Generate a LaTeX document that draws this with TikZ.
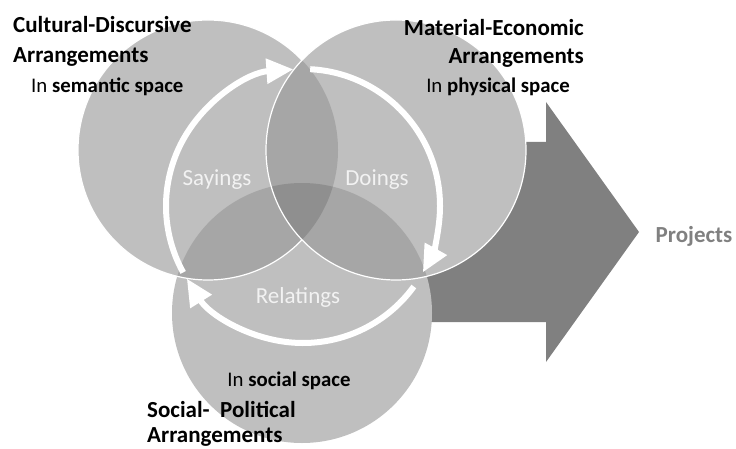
\documentclass[tikz,border=0pt]{standalone}
\usepackage{fontspec}
\setmainfont{Carlito}
\usetikzlibrary{arrows.meta}
\definecolor{single}{HTML}{BFBFBF}
\definecolor{pair}{HTML}{A6A6A6}
\definecolor{triple}{HTML}{8F8F8F}
\definecolor{bigarrow}{HTML}{808080}
\definecolor{innertext}{HTML}{F2F2F2}
\tikzset{
  header/.style={inner sep=0pt, font=\fontsize{23}{25}\selectfont\bfseries, text=black},
  spacetext/.style={inner sep=0pt, font=\fontsize{20.8}{23}\selectfont, text=black},
  inner label/.style={inner sep=0pt, font=\fontsize{23}{25}\selectfont, text=innertext},
  cycle arc/.style={white, line width=6pt, -{Triangle[length=27pt,width=24pt]}},
  rim/.style={white, line width=1.2pt}
}
\begin{document}
\begin{tikzpicture}[x=1pt,y=1pt]
\useasboundingbox (0,0) rectangle (736,448);
% centres of the three arrangement circles and of the practice cycle
\coordinate (cd) at (208,298);
\coordinate (me) at (396,298);
\coordinate (sp) at (302,135);
\coordinate (cyc) at (303,242);
\def\R{130}
% large arrow towards projects
\fill[bigarrow] (400,126) -- (546,126) -- (546,86) -- (639,216)
  -- (546,346) -- (546,306) -- (400,306) -- cycle;
% circles
\fill[single] (cd) circle (\R);
\fill[single] (me) circle (\R);
\fill[single] (sp) circle (\R);
% pairwise overlaps
\begin{scope}
  \clip (cd) circle (\R);
  \fill[pair] (me) circle (\R);
  \fill[pair] (sp) circle (\R);
\end{scope}
\begin{scope}
  \clip (me) circle (\R);
  \fill[pair] (sp) circle (\R);
\end{scope}
% common overlap
\begin{scope}
  \clip (cd) circle (\R);
  \clip (me) circle (\R);
  \fill[triple] (sp) circle (\R);
\end{scope}
% thin white rims
\begin{scope}[even odd rule]
  \clip (-10,-10) rectangle (746,458) (me) circle (\R);
  \draw[rim] (cd) circle (\R);
\end{scope}
\draw[rim] (me) circle (\R);
% cycle of practices
\draw[cycle arc] ([shift={(209:137)}]cyc) arc[start angle=209, end angle=94, radius=137];
\draw[cycle arc] ([shift={(87:137)}]cyc) arc[start angle=87, end angle=-29, radius=137];
\draw[cycle arc] ([shift={(-36:137)}]cyc) arc[start angle=-36, end angle=-148, radius=137];
% practice labels
\node[inner label, anchor=base] (say) at (217,263) {Sayings};
\node[inner label, anchor=base] (do) at (377,263) {Doings};
\node[inner label, anchor=base] (rel) at (298,145) {Relatings};
% arrangement labels
\node[header, anchor=base west] (cd1) at (13,415) {Cultural-Discursive};
\node[header, anchor=base west] (cd2) at (13,385) {Arrangements};
\node[spacetext, anchor=base west] (cd3) at (31,355) {In \textbf{semantic space}};
\node[header, anchor=base east] (me1) at (584,412) {Material-Economic};
\node[header, anchor=base east] (me2) at (584,384) {Arrangements};
\node[spacetext, anchor=base] (me3) at (498,355) {In \textbf{physical space}};
\node[spacetext, anchor=base] (sp3) at (289,62) {In \textbf{social space}};
\node[header, anchor=base west] (sp1) at (147,31) {Social-\ \ Political};
\node[header, anchor=base west] (sp2) at (147,6) {Arrangements};
\node[header, anchor=base, text=bigarrow] (proj) at (694,206) {Projects};
\end{tikzpicture}
\end{document}
